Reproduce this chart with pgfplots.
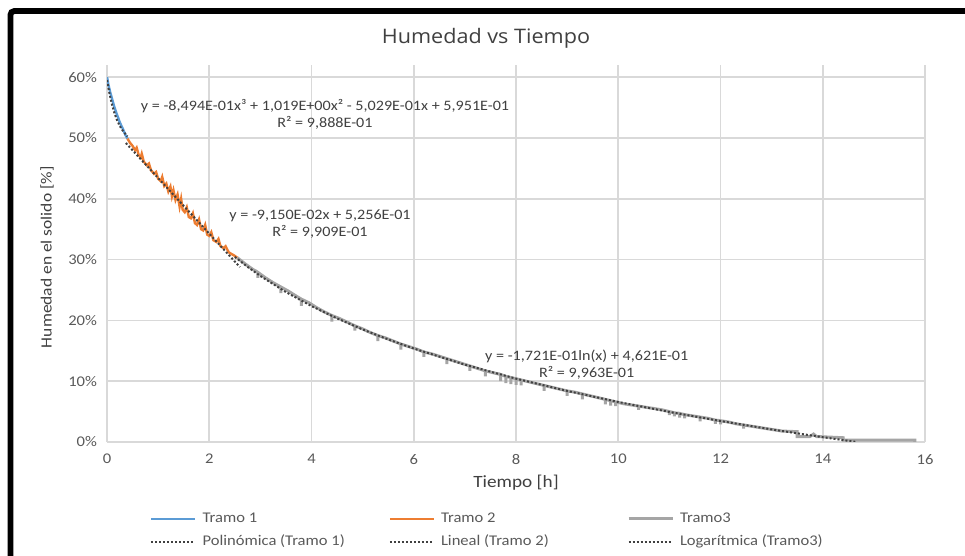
\documentclass[border=0pt]{standalone}
\usepackage{pgfplots}
\pgfplotsset{compat=1.18}
\usepackage{fontspec}
\setmainfont{Carlito}[FakeStretch=1.12]
\newfontfamily\titlefont{Open Sans}[FakeStretch=1.08]
\definecolor{c1}{HTML}{5B9BD5}
\definecolor{c2}{HTML}{ED7D31}
\definecolor{c3}{HTML}{A5A5A5}
\definecolor{gridc}{HTML}{D9D9D9}
\definecolor{txt}{HTML}{595959}
\definecolor{trend}{HTML}{404040}
\begin{document}
\begin{tikzpicture}[x=1pt,y=1pt]
\path[use as bounding box] (0,0) rectangle (482.5,278);
\draw[line width=2.9pt, rounded corners=2pt] (5.2,-3) -- (5.2,272.5) -- (486,272.5);
\begin{axis}[
  at={(53.5pt,57pt)}, anchor=south west,
  scale only axis, width=409pt, height=188.5pt,
  xmin=0, xmax=16, ymin=0, ymax=0.62,
  axis line style={draw=none},
  tick style={draw=none},
  grid=major,
  major grid style={gridc, line width=0.8pt},
  xtick={0,2,4,6,8,10,12,14,16},
  xticklabels={0,2,4,6,8,10,12,14,16},
  ytick={0,0.1,0.2,0.3,0.4,0.5,0.6},
  yticklabels={0\%,10\%,20\%,30\%,40\%,50\%,60\%},
  ticklabel style={font=\fontsize{7.4}{8}\selectfont, text=txt},
  xticklabel style={yshift=-2.5pt},
  yticklabel style={xshift=-1.5pt},
  xlabel={Tiempo [h]},
  xlabel style={font=\fontsize{8.6}{10}\selectfont, text=trend, at={([yshift=-20.5pt]axis description cs:0.5,0)}, anchor=center},
  ylabel={Humedad en el solido [\%]},
  ylabel style={font=\fontsize{7.8}{9}\selectfont, text=trend, at={([xshift=-30pt]axis description cs:0,0.49)}, anchor=center},
  legend columns=3,
  legend image code/.code={\draw[#1] (0pt,0pt) -- (22pt,0pt);},
  legend style={draw=none, fill=none, at={(axis description cs:0.045,-0.168)}, anchor=north west,
    font=\fontsize{7.4}{8}\selectfont, text=txt,
    nodes={inner sep=1pt, text height=5.5pt, text depth=1.5pt},
    row sep=2.5pt,
    /tikz/every odd column/.append style={column sep=2pt},
    /tikz/every even column/.append style={column sep=0pt}},
]
\addplot[c1, line width=1.2pt] coordinates {
(0,0.600)(0.01,0.596)(0.02,0.591)(0.03,0.587)(0.04,0.583)(0.05,0.580)(0.06,0.576)
(0.07,0.573)(0.08,0.570)(0.09,0.567)(0.10,0.564)(0.12,0.558)(0.14,0.552)(0.16,0.547)
(0.18,0.542)(0.20,0.537)(0.22,0.533)(0.24,0.528)(0.26,0.524)(0.28,0.520)(0.30,0.517)
(0.32,0.513)(0.34,0.509)(0.36,0.505)(0.38,0.502)(0.40,0.499)};
\addlegendentry{\makebox[92pt][l]{Tramo 1}}
\addplot[c2, line width=1.2pt] coordinates {
(0.40,0.499)(0.45,0.492)(0.50,0.487)(0.55,0.480)(0.58,0.484)(0.62,0.472)(0.66,0.468)
(0.68,0.474)(0.72,0.461)(0.78,0.455)(0.82,0.458)(0.86,0.447)(0.92,0.441)(0.96,0.444)
(1.00,0.433)(1.05,0.429)(1.08,0.436)(1.12,0.421)(1.16,0.425)(1.20,0.412)(1.24,0.420)
(1.27,0.404)(1.30,0.414)(1.34,0.398)(1.38,0.407)(1.42,0.387)(1.45,0.400)(1.48,0.382)
(1.52,0.378)(1.56,0.386)(1.60,0.370)(1.64,0.368)(1.68,0.376)(1.72,0.360)(1.76,0.357)
(1.80,0.366)(1.84,0.350)(1.88,0.348)(1.92,0.357)(1.96,0.341)(2.00,0.339)(2.04,0.345)
(2.08,0.332)(2.14,0.329)(2.18,0.334)(2.22,0.322)(2.28,0.319)(2.32,0.322)(2.38,0.312)
(2.44,0.309)(2.50,0.306)(2.55,0.303)};
\addlegendentry{\makebox[92pt][l]{Tramo 2}}
\addplot[c3, line width=1.5pt] coordinates {
(2.55,0.303)(2.70,0.293)(2.85,0.284)(2.95,0.279)(2.95,0.270)(2.95,0.279)(3.10,0.270)
(3.25,0.262)(3.40,0.255)(3.40,0.245)(3.40,0.255)(3.55,0.248)(3.70,0.240)(3.80,0.235)
(3.80,0.224)(3.80,0.235)(3.95,0.229)(4.10,0.221)(4.25,0.214)(4.40,0.208)(4.40,0.198)
(4.40,0.208)(4.55,0.203)(4.70,0.197)(4.85,0.191)(4.85,0.183)(4.85,0.191)(5.00,0.186)
(5.15,0.180)(5.30,0.175)(5.30,0.166)(5.30,0.175)(5.45,0.171)(5.60,0.166)(5.75,0.161)
(5.75,0.152)(5.75,0.161)(5.90,0.157)(6.05,0.153)(6.20,0.148)(6.20,0.140)(6.20,0.148)
(6.35,0.145)(6.50,0.141)(6.65,0.137)(6.65,0.128)(6.65,0.137)(6.80,0.133)(6.95,0.129)
(7.10,0.125)(7.10,0.117)(7.10,0.125)(7.25,0.121)(7.40,0.117)(7.40,0.108)(7.40,0.117)
(7.55,0.114)(7.70,0.111)(7.70,0.100)(7.70,0.111)(7.80,0.108)(7.80,0.097)(7.80,0.108)
(7.90,0.106)(7.90,0.095)(7.90,0.106)(8.00,0.104)(8.00,0.094)(8.00,0.104)(8.10,0.102)
(8.10,0.093)(8.10,0.102)(8.25,0.099)(8.40,0.096)(8.55,0.093)(8.55,0.084)(8.55,0.093)
(8.70,0.090)(8.85,0.087)(9.00,0.084)(9.00,0.076)(9.00,0.084)(9.15,0.082)(9.30,0.079)
(9.30,0.070)(9.30,0.079)(9.45,0.076)(9.60,0.073)(9.75,0.070)(9.75,0.062)(9.75,0.070)
(9.85,0.068)(9.85,0.060)(9.85,0.068)(9.95,0.066)(9.95,0.059)(9.95,0.066)(10.10,0.063)
(10.25,0.061)(10.40,0.059)(10.40,0.053)(10.40,0.059)(10.55,0.057)(10.70,0.055)(10.85,0.053)
(11.00,0.050)(11.00,0.044)(11.00,0.050)(11.10,0.048)(11.10,0.042)(11.10,0.048)(11.20,0.047)
(11.20,0.040)(11.20,0.047)(11.30,0.045)(11.30,0.039)(11.30,0.045)(11.45,0.043)(11.60,0.041)
(11.60,0.034)(11.60,0.041)(11.75,0.039)(11.90,0.036)(11.90,0.030)(11.90,0.036)(12.00,0.035)
(12.00,0.029)(12.00,0.035)(12.15,0.033)(12.30,0.030)(12.45,0.028)(12.45,0.022)(12.45,0.028)
(12.60,0.026)(12.75,0.024)(12.90,0.022)(13.05,0.020)(13.20,0.018)(13.50,0.017)(13.50,0.009)
(13.75,0.009)(13.82,0.013)(13.88,0.009)(14.40,0.007)(14.40,0.003)(15.80,0.003)(15.80,0.000)};
\addlegendentry{\makebox[92pt][l]{Tramo3}}
\addplot[trend, line width=1pt, dash pattern=on 1pt off 1pt] coordinates {
(0,0.5951)(0.05,0.5724)(0.10,0.5542)(0.15,0.5397)(0.20,0.5285)(0.25,0.5198)
(0.30,0.5130)(0.35,0.5075)(0.40,0.5026)};
\addlegendentry{\makebox[92pt][l]{Polinómica (Tramo 1)}}
\addplot[trend, line width=1pt, dash pattern=on 1pt off 1pt] coordinates {
(0.37,0.4917)(2.60,0.2877)};
\addlegendentry{\makebox[92pt][l]{Lineal (Tramo 2)}}
\addplot[trend, line width=1pt, dash pattern=on 1pt off 1pt] coordinates {
(2.5,0.3044)(2.75,0.2880)(3,0.2730)(3.5,0.2465)(4,0.2235)(4.5,0.2033)(5,0.1851)
(5.5,0.1687)(6,0.1537)(7,0.1272)(8,0.1042)(9,0.0840)(10,0.0658)(11,0.0494)
(12,0.0345)(13,0.0207)(14,0.0079)(14.66,0.0)};
\addlegendentry{\makebox[92pt][l]{Logarítmica (Tramo3)}}
\node[align=center, font=\fontsize{7.2}{8.5}\selectfont, text=trend] at (axis cs:4.264,0.538)
  {y = -8,494E-01x³ + 1,019E+00x² - 5,029E-01x + 5,951E-01\\R² = 9,888E-01};
\node[align=center, font=\fontsize{7.2}{8.5}\selectfont, text=trend] at (axis cs:4.166,0.359)
  {y = -9,150E-02x + 5,256E-01\\R² = 9,909E-01};
\node[align=center, font=\fontsize{7.2}{8.5}\selectfont, text=trend] at (axis cs:9.383,0.127)
  {y = -1,721E-01ln(x) + 4,621E-01\\R² = 9,963E-01};
\end{axis}
\node[font=\titlefont\fontsize{10}{12}\selectfont, text=trend] at (243,259) {Humedad vs Tiempo};
\end{tikzpicture}
\end{document}
